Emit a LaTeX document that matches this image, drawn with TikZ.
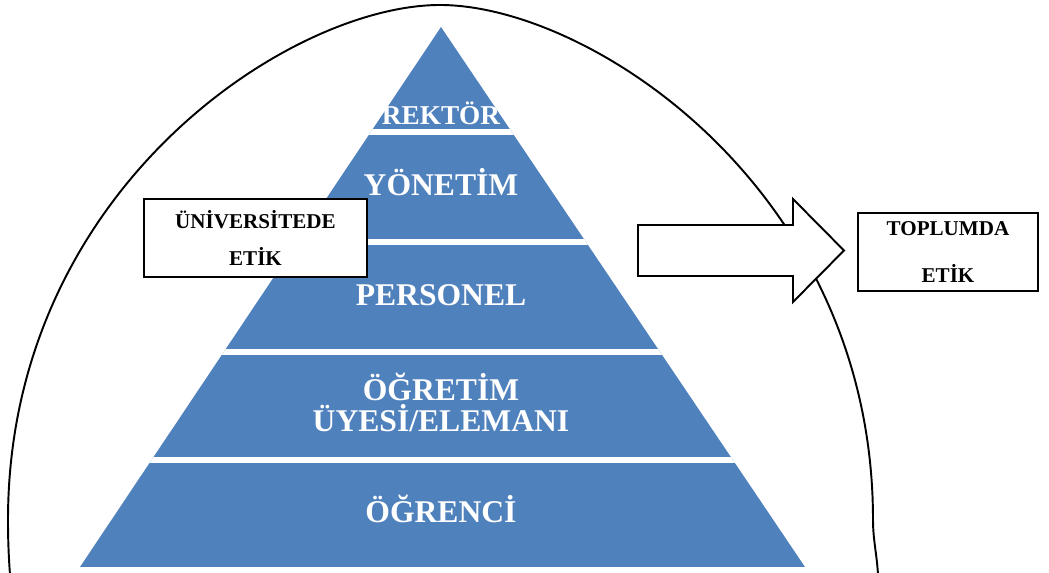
\documentclass[tikz,border=0pt]{standalone}
\usepackage{fontspec}
\setmainfont{Liberation Serif}
\usetikzlibrary{positioning}
\definecolor{pyrblue}{RGB}{79,129,189}

\begin{document}
\begin{tikzpicture}
  [
  x=0.02cm, y=-0.02cm, line width=1.1pt,
  layerlabel/.style={text=white, inner sep=0pt, align=center, anchor=south,
    font=\bfseries\fontsize{18}{17.6}\selectfont},
  etikbox/.style={draw=black, fill=white, inner sep=0pt, align=center,
    font=\bfseries\fontsize{12}{21.3}\selectfont}
  ]
  \useasboundingbox (0,0) rectangle (1049,573);

  % outer arch
  \draw (10,575) .. controls (9,560) and (8,545) .. (8,520)
    .. controls (8,190) and (290,5) .. (440,5)
    .. controls (590,5) and (873,190) .. (873,520)
    .. controls (873,540) and (877,555) .. (878,575);

  % pyramid with white gaps
  \begin{scope}
    \clip (441,27) -- (805,567) -- (80,567) -- cycle;
    \fill[pyrblue] (0,0) rectangle (1049,573);
    \foreach \g in {132.5,242.5,352.5,460}
      \fill[white] (0,\g-3) rectangle (1049,\g+3);
  \end{scope}

  \node[layerlabel, font=\bfseries\fontsize{15.5}{17}\selectfont] (rektor) at (441,126) {REKTÖR};
  \node[layerlabel] (yonetim) at (441,197) {YÖNETİM};
  \node[layerlabel] (personel) at (441,307) {PERSONEL};
  \node[layerlabel] (ogretim) at (441,433) {ÖĞRETİM\\ÜYESİ/ELEMANI};
  \node[layerlabel] (ogrenci) at (441,524) {ÖĞRENCİ};

  % boxes
  \node[etikbox, minimum width=126.4pt, minimum height=44.2pt] (univ) at (255.5,238) {ÜNİVERSİTEDE\\ETİK};
  \node[etikbox, minimum width=102pt, minimum height=43.9pt,
    font=\bfseries\fontsize{12}{26.6}\selectfont] (toplum) at (948,252) {TOPLUMDA\\ETİK};

  % block arrow
  \draw[fill=white] (638,225) -- (793,225) -- (793,199) -- (844,250.5)
    -- (793,302) -- (793,276) -- (638,276) -- cycle;
\end{tikzpicture}
\end{document}
